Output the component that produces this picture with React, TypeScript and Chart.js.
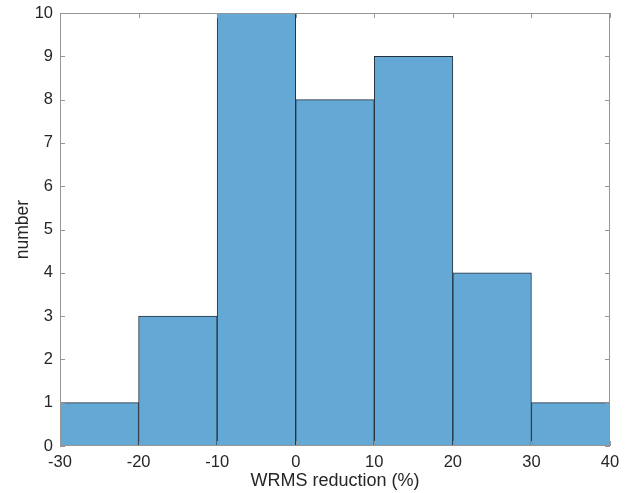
import React, { useEffect, useRef } from "react";
import { Chart, registerables } from "chart.js";

Chart.register(...registerables);

const binEdges = [-30, -20, -10, 0, 10, 20, 30, 40];
const counts = [1, 3, 10, 8, 9, 4, 1];
const xTicks = [-30, -20, -10, 0, 10, 20, 30, 40];
const yTicks = [0, 1, 2, 3, 4, 5, 6, 7, 8, 9, 10];
const xLabel = "WRMS reduction (%)";
const yLabel = "number";

const FONT = "'Liberation Sans', Arial, Helvetica, sans-serif";

const boxPlugin = {
  id: "matlabBox",
  afterDraw(chart: any) {
    const { ctx, chartArea: a, scales } = chart;
    const x = scales.x;
    const y = scales.y;
    ctx.save();
    ctx.strokeStyle = "rgb(150,150,150)";
    ctx.lineWidth = 1;
    ctx.strokeRect(a.left + 0.5, a.top + 0.5, a.right - a.left - 1, a.bottom - a.top - 1);
    const L = 5;
    ctx.beginPath();
    xTicks.forEach((v) => {
      const px = Math.round(x.getPixelForValue(v)) + 0.5;
      ctx.moveTo(px, a.bottom);
      ctx.lineTo(px, a.bottom - L);
      ctx.moveTo(px, a.top);
      ctx.lineTo(px, a.top + L);
    });
    yTicks.forEach((v) => {
      const py = Math.round(y.getPixelForValue(v)) + 0.5;
      ctx.moveTo(a.left, py);
      ctx.lineTo(a.left + L, py);
      ctx.moveTo(a.right, py);
      ctx.lineTo(a.right - L, py);
    });
    ctx.stroke();
    ctx.restore();
  },
};

export default function App() {
  const ref = useRef<HTMLCanvasElement>(null);
  useEffect(() => {
    document.body.style.margin = "0";
    const data = counts.map((c, i) => ({ x: (binEdges[i] + binEdges[i + 1]) / 2, y: c }));
    const chart = new Chart(ref.current!, {
      type: "bar",
      data: {
        datasets: [
          {
            data,
            backgroundColor: "rgb(100,169,214)",
            borderColor: "rgb(38,48,58)",
            borderWidth: 1,
            barPercentage: 1,
            categoryPercentage: 1,
          } as any,
        ],
      },
      options: {
        responsive: false,
        animation: false,
        layout: { padding: { top: 13, right: 19, left: 0, bottom: 0 } },
        plugins: { legend: { display: false }, tooltip: { enabled: false } },
        scales: {
          x: {
            type: "linear",
            min: -30,
            max: 40,
            offset: false,
            grid: { display: false, drawTicks: false, tickLength: 0 },
            border: { display: false },
            afterFit: (s: any) => {
              s.height = 47;
              s.paddingLeft = 0;
              s.paddingRight = 0;
            },
            afterBuildTicks: (s: any) => {
              s.ticks = xTicks.map((v) => ({ value: v }));
            },
            ticks: {
              color: "rgb(38,38,38)",
              font: { family: FONT, size: 16.5 },
              padding: 7,
              maxRotation: 0,
              autoSkip: false,
            },
            title: {
              display: true,
              text: xLabel,
              color: "rgb(38,38,38)",
              font: { family: FONT, size: 18 },
              padding: { top: 0, bottom: 1 },
            },
          },
          y: {
            type: "linear",
            min: 0,
            max: 10,
            grid: { display: false, drawTicks: false, tickLength: 0 },
            border: { display: false },
            afterFit: (s: any) => {
              s.width = 60;
              s.paddingTop = 0;
              s.paddingBottom = 0;
            },
            afterBuildTicks: (s: any) => {
              s.ticks = yTicks.map((v) => ({ value: v }));
            },
            ticks: {
              color: "rgb(38,38,38)",
              font: { family: FONT, size: 16.5 },
              padding: 7,
            },
            title: {
              display: true,
              text: yLabel,
              color: "rgb(38,38,38)",
              font: { family: FONT, size: 17.5 },
              padding: { top: 13, bottom: 0 },
            },
          },
        },
      },
      plugins: [boxPlugin],
    });
    return () => chart.destroy();
  }, []);
  return (
    <div style={{ position: "absolute", left: 0, top: 0 }}>
      <canvas ref={ref} width={629} height={493} style={{ display: "block" }} />
    </div>
  );
}
